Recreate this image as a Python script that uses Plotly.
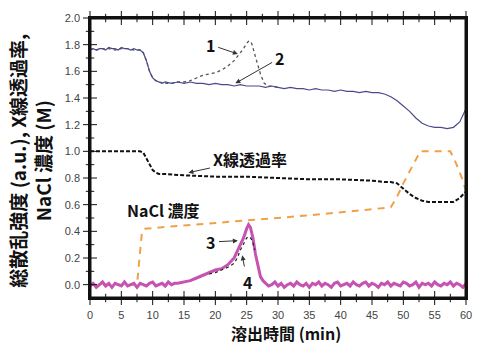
import plotly.graph_objects as go

# ---- data ----
# total scattering intensity, sample 2 (blue)
blue_x = [0, 0.5, 1, 1.5, 2, 2.5, 3, 3.5, 4, 4.5, 5, 5.5, 6, 6.5, 7, 7.5, 8, 8.5, 9, 9.5,
          10, 10.5, 11, 11.5, 12, 13, 14, 15, 16, 17, 18, 19, 20, 21, 22, 23, 24, 25, 26, 27,
          28, 29, 30, 31, 32, 33, 34, 35, 36, 37, 38, 39, 40, 41, 42, 43, 44, 45, 46, 47,
          48, 49, 50, 51, 52, 53, 54, 55, 56, 57, 58, 59, 60]
blue_y = [1.76, 1.77, 1.76, 1.77, 1.77, 1.76, 1.78, 1.77, 1.77, 1.76, 1.78, 1.77, 1.77, 1.76, 1.77, 1.76, 1.76, 1.74, 1.68, 1.60,
          1.55, 1.53, 1.52, 1.51, 1.52, 1.51, 1.52, 1.51, 1.52, 1.51, 1.51, 1.50, 1.51, 1.50, 1.50, 1.49, 1.50, 1.49, 1.49, 1.49,
          1.48, 1.49, 1.48, 1.47, 1.48, 1.47, 1.47, 1.46, 1.47, 1.46, 1.46, 1.45, 1.46, 1.45, 1.45, 1.44, 1.45, 1.44, 1.44, 1.43,
          1.41, 1.38, 1.34, 1.30, 1.25, 1.21, 1.19, 1.18, 1.18, 1.17, 1.18, 1.22, 1.32]

# total scattering intensity, sample 1 (gray dotted)
s1_x = [0, 1, 2, 3, 4, 5, 6, 7, 8, 8.5, 9, 9.5, 10, 10.5, 11, 12, 13, 14, 15, 16, 17, 18, 19, 20,
        21, 22, 23, 23.5, 24, 24.5, 25, 25.4, 25.8, 26.2, 26.7, 27.2, 27.8, 28.5, 30]
s1_y = [1.77, 1.76, 1.77, 1.77, 1.76, 1.77, 1.77, 1.76, 1.76, 1.74, 1.68, 1.60, 1.55, 1.53, 1.52, 1.51, 1.51, 1.52, 1.52, 1.53, 1.55, 1.57, 1.58, 1.59,
        1.61, 1.64, 1.68, 1.71, 1.74, 1.77, 1.81, 1.83, 1.81, 1.75, 1.66, 1.58, 1.51, 1.49, 1.48]

# X-ray transmission (black dashed)
xr_x = [0, 2, 4, 6, 8, 8.5, 9, 9.5, 10, 10.5, 11, 12, 15, 20, 25, 30, 35, 40, 45, 47,
        48, 49, 50, 51, 52, 53, 54, 56, 58, 59, 60]
xr_y = [1.00, 1.00, 1.00, 1.00, 1.00, 0.99, 0.95, 0.90, 0.86, 0.84, 0.83, 0.83, 0.82, 0.81, 0.81, 0.80, 0.79, 0.79, 0.78, 0.77,
        0.77, 0.76, 0.72, 0.68, 0.65, 0.63, 0.62, 0.62, 0.62, 0.65, 0.70]

# NaCl concentration (orange dashed)
na_x = [0, 7.5, 7.9, 8.3, 8.8, 14, 25, 35, 48, 49, 50, 51, 52, 52.7, 57.5, 58.5, 59.5, 60]
na_y = [0.00, 0.00, 0.20, 0.40, 0.42, 0.44, 0.48, 0.52, 0.58, 0.66, 0.76, 0.85, 0.94, 1.00, 1.00, 0.90, 0.78, 0.70]

# scattering intensity, sample 3 (magenta)
m_x = [0, 0.5, 1, 1.5, 2, 2.5, 3, 3.5, 4, 4.5, 5, 5.5, 6, 6.5, 7, 7.5, 8, 8.5, 9, 9.5,
       10, 10.5, 11, 11.5, 12, 12.5, 13, 13.5,
       14, 15, 16, 17, 18, 19, 20, 21, 22, 23, 23.5, 24, 24.5, 25, 25.3, 25.6, 26, 26.4, 26.8, 27.2, 27.6,
       28, 28.5, 29, 29.5, 30, 30.5, 31, 31.5, 32, 32.5, 33, 33.5, 34, 34.5, 35, 35.5, 36, 36.5, 37, 37.5,
       38, 38.5, 39, 39.5, 40, 40.5, 41, 41.5, 42, 42.5, 43, 43.5, 44, 44.5, 45, 45.5, 46, 46.5, 47, 47.5,
       48, 48.5, 49, 49.5, 50, 50.5, 51, 51.5, 52, 52.5, 53, 53.5, 54, 54.5, 55, 55.5, 56, 56.5, 57, 57.5,
       58, 58.5, 59, 59.5, 60]
m_y = [-0.01, 0.01, -0.02, 0.00, 0.02, -0.01, 0.01, -0.02, 0.01, 0.00, -0.01, 0.02, -0.01, 0.00, 0.01, -0.02, 0.01, 0.00, -0.01, 0.01,
       0.02, -0.01, 0.00, 0.01, -0.01, 0.02, 0.00, 0.01,
       0.01, 0.02, 0.03, 0.05, 0.07, 0.09, 0.11, 0.12, 0.15, 0.20, 0.25, 0.30, 0.35, 0.42, 0.45, 0.43, 0.35, 0.23, 0.13, 0.06, 0.03,
       0.01, -0.01, 0.00, 0.02, -0.01, 0.01, -0.02, 0.00, 0.01, -0.01, 0.02, 0.00, -0.01, 0.01, -0.02, 0.01, 0.00, 0.02, -0.01, 0.01,
       0.00, -0.02, 0.01, 0.02, -0.01, 0.00, 0.01, -0.01, 0.02, 0.00, -0.01, 0.01, 0.02, -0.01, 0.01, 0.00, -0.02, 0.01, 0.00, 0.02,
       -0.01, 0.01, 0.00, -0.01, 0.02, 0.01, -0.01, 0.00, 0.02, -0.02, 0.01, 0.00, 0.01, -0.01, 0.02, 0.00, -0.01, 0.01, 0.00, 0.02,
       -0.01, 0.01, 0.00, -0.02, 0.01]

# scattering intensity, sample 4 (black dotted)
s4_x = [19, 20, 21, 22, 23, 23.5, 24, 24.5, 25, 25.5, 25.9, 26.3]
s4_y = [0.08, 0.09, 0.11, 0.13, 0.16, 0.20, 0.26, 0.31, 0.35, 0.36, 0.33, 0.26]

x_ticks = [0, 5, 10, 15, 20, 25, 30, 35, 40, 45, 50, 55, 60]
y_ticks = [0.0, 0.2, 0.4, 0.6, 0.8, 1.0, 1.2, 1.4, 1.6, 1.8, 2.0]
x_range = [0, 60]
y_range = [-0.1, 2.0]

AX = "#111111"
fig = go.Figure()
fig.add_trace(go.Scatter(x=na_x, y=na_y, mode="lines",
                         line=dict(color="#f0a04a", width=2, dash="7px,6px")))
fig.add_trace(go.Scatter(x=m_x, y=m_y, mode="lines",
                         line=dict(color="#c653b2", width=3)))
fig.add_trace(go.Scatter(x=s4_x, y=s4_y, mode="lines",
                         line=dict(color="#222222", width=1.2, dash="dot")))
fig.add_trace(go.Scatter(x=xr_x, y=xr_y, mode="lines",
                         line=dict(color="#111111", width=2, dash="4px,2px")))
fig.add_trace(go.Scatter(x=s1_x, y=s1_y, mode="lines",
                         line=dict(color="#555555", width=1.3, dash="dot")))
fig.add_trace(go.Scatter(x=blue_x, y=blue_y, mode="lines",
                         line=dict(color="#4a4a8c", width=1.2)))

# plot frame (follows the axis ranges)
fig.add_trace(go.Scatter(x=[x_range[0], x_range[1], x_range[1], x_range[0], x_range[0]],
                         y=[y_range[0], y_range[0], y_range[1], y_range[1], y_range[0]],
                         mode="lines", line=dict(color=AX, width=3), hoverinfo="skip"))
# tick marks as marker glyphs on the axes
x_minor = [(a + b) / 2 for a, b in zip(x_ticks[:-1], x_ticks[1:])]
y_minor = [(a + b) / 2 for a, b in zip(y_ticks[:-1], y_ticks[1:])]
tick_style = dict(color=AX, line=dict(color=AX, width=1))
fig.add_trace(go.Scatter(x=x_ticks, y=[y_range[0]] * len(x_ticks), mode="markers", cliponaxis=False,
                         marker=dict(symbol="line-ns", size=10, **tick_style), hoverinfo="skip"))
fig.add_trace(go.Scatter(x=x_minor, y=[y_range[0]] * len(x_minor), mode="markers", cliponaxis=False,
                         marker=dict(symbol="line-ns", size=6, **tick_style), hoverinfo="skip"))
fig.add_trace(go.Scatter(x=x_ticks, y=[y_range[1]] * len(x_ticks), mode="markers", cliponaxis=False,
                         marker=dict(symbol="line-ns", size=10, **tick_style), hoverinfo="skip"))
fig.add_trace(go.Scatter(x=x_minor, y=[y_range[1]] * len(x_minor), mode="markers", cliponaxis=False,
                         marker=dict(symbol="line-ns", size=6, **tick_style), hoverinfo="skip"))
fig.add_trace(go.Scatter(x=[x_range[0]] * len(y_ticks), y=y_ticks, mode="markers", cliponaxis=False,
                         marker=dict(symbol="line-ew", size=10, **tick_style), hoverinfo="skip"))
fig.add_trace(go.Scatter(x=[x_range[0]] * len(y_minor), y=y_minor, mode="markers", cliponaxis=False,
                         marker=dict(symbol="line-ew", size=6, **tick_style), hoverinfo="skip"))

tickfont = dict(family="Liberation Sans", size=11, color="#444444")
fig.update_layout(
    width=484, height=348,
    margin=dict(l=90, r=12, t=16, b=50),
    paper_bgcolor="white", plot_bgcolor="white",
    showlegend=False,
)
fig.update_xaxes(range=x_range, tickvals=x_ticks, ticks="", ticklabelstandoff=6,
                 showline=True, linecolor=AX, linewidth=1.5, mirror=True,
                 showgrid=False, zeroline=False, tickfont=tickfont)
fig.update_yaxes(range=y_range, tickvals=y_ticks, tickformat=".1f", ticks="", ticklabelstandoff=6,
                 showline=True, linecolor=AX, linewidth=1.5, mirror=True,
                 showgrid=False, zeroline=False, tickfont=tickfont)

ann_font = dict(family="Noto Sans CJK JP", size=16, color="#111")
annotations = [
    dict(x=23.6, y=1.73, ax=19.2, ay=1.80, text="<b>1</b>"),
    dict(x=23.2, y=1.51, ax=30.3, ay=1.70, text="<b>2</b>"),
    dict(x=15.7, y=0.84, ax=25.6, ay=0.94, text="<b>X線透過率</b>"),
    dict(x=14.1, y=0.45, ax=11.8, ay=0.56, text="<b>NaCl 濃度</b>"),
    dict(x=23.6, y=0.33, ax=19.3, ay=0.32, text="<b>3</b>"),
    dict(x=24.3, y=0.22, ax=25.1, ay=0.02, text="<b>4</b>"),
]
for a in annotations:
    fig.add_annotation(x=a["x"], y=a["y"], ax=a["ax"], ay=a["ay"], axref="x", ayref="y",
                       text=a["text"], showarrow=True, arrowhead=2, arrowsize=1, arrowwidth=1,
                       arrowcolor="#333", font=ann_font, standoff=0, startstandoff=2)

fig.add_annotation(xref="paper", yref="paper", x=-0.16, y=0.49, xanchor="center", yanchor="middle",
                   textangle=-90, showarrow=False, align="center",
                   text="<b>総散乱強度 (a.u.), X線透過率,<br>NaCl 濃度 (M)</b>",
                   font=dict(family="Noto Sans CJK JP", size=19, color="#111"))
fig.add_annotation(xref="paper", yref="paper", x=0.52, y=-0.125, xanchor="center", yanchor="middle",
                   showarrow=False, text="<b>溶出時間 (min)</b>",
                   font=dict(family="Noto Sans CJK JP", size=16, color="#111"))

fig.write_html("out.html", config={"displayModeBar": False},
               post_script="document.body.style.margin='0px';")
